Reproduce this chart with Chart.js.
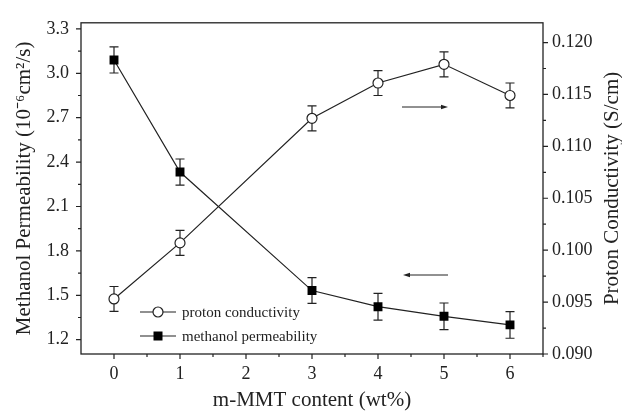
<!DOCTYPE html>
<html>
<head>
<meta charset="utf-8">
<script src="https://cdn.jsdelivr.net/npm/chart.js@4/dist/chart.umd.min.js"></script>
<style>
  html, body { margin: 0; padding: 0; background: #fff; }
  #wrap { width: 622px; height: 412px; position: relative; }
</style>
</head>
<body>
<div id="wrap"><canvas id="chart"></canvas></div>
<script>
// m-MMT content (wt%)
const contents = [0, 1, 3, 4, 5, 6];
// proton conductivity (S/cm), right axis
const conductivity    = [0.0953, 0.1007, 0.1127, 0.1161, 0.1179, 0.1149];
const conductivityErr = [0.0012, 0.0012, 0.0012, 0.0012, 0.0012, 0.0012];
// methanol permeability (10^-6 cm2/s), left axis
const permeability    = [3.09, 2.333, 1.532, 1.423, 1.358, 1.30];
const permeabilityErr = [0.088, 0.088, 0.087, 0.09, 0.09, 0.09];

const xTicks     = [0, 1, 2, 3, 4, 5, 6];
const leftTicks  = [1.2, 1.5, 1.8, 2.1, 2.4, 2.7, 3.0, 3.3];
const rightTicks = [0.090, 0.095, 0.100, 0.105, 0.110, 0.115, 0.120];

const INK = '#222';
const SERIF = '"Liberation Serif", "Times New Roman", serif';

// error bars, drawn under the markers
const errorBars = {
    id: 'errorBars',
    beforeDatasetsDraw(chart) {
        const ctx = chart.ctx;
        ctx.save();
        ctx.strokeStyle = INK;
        ctx.lineWidth = 1.2;
        chart.data.datasets.forEach(ds => {
            const ys = chart.scales[ds.yAxisID];
            ds.data.forEach((p, i) => {
                const x  = chart.scales.x.getPixelForValue(p.x);
                const y1 = ys.getPixelForValue(p.y + ds.err[i]);
                const y2 = ys.getPixelForValue(p.y - ds.err[i]);
                ctx.beginPath();
                ctx.moveTo(x, y1); ctx.lineTo(x, y2);
                ctx.moveTo(x - 4.5, y1); ctx.lineTo(x + 4.5, y1);
                ctx.moveTo(x - 4.5, y2); ctx.lineTo(x + 4.5, y2);
                ctx.stroke();
            });
        });
        ctx.restore();
    }
};

// frame, outward ticks (major + minor), right title, legend, arrows
const decorations = {
    id: 'decorations',
    afterDraw(chart) {
        const ctx = chart.ctx;
        const a = chart.chartArea;
        const sx = chart.scales.x, yl = chart.scales.y, yr = chart.scales.y1;
        ctx.save();
        ctx.strokeStyle = INK;
        ctx.lineWidth = 1.3;
        ctx.strokeRect(a.left, a.top, a.right - a.left, a.bottom - a.top);

        ctx.lineWidth = 1.2;
        ctx.beginPath();
        xTicks.forEach(v => {
            const x = sx.getPixelForValue(v);
            ctx.moveTo(x, a.bottom); ctx.lineTo(x, a.bottom + 5);
            const m = sx.getPixelForValue(v + 0.5);
            ctx.moveTo(m, a.bottom); ctx.lineTo(m, a.bottom + 3);
        });
        leftTicks.forEach((v, i) => {
            const y = yl.getPixelForValue(v);
            ctx.moveTo(a.left, y); ctx.lineTo(a.left - 5, y);
            if (i < leftTicks.length - 1) {
                const m = yl.getPixelForValue((v + leftTicks[i + 1]) / 2);
                ctx.moveTo(a.left, m); ctx.lineTo(a.left - 3, m);
            }
        });
        rightTicks.forEach((v, i) => {
            const y = yr.getPixelForValue(v);
            ctx.moveTo(a.right, y); ctx.lineTo(a.right + 5, y);
            if (i < rightTicks.length - 1) {
                const m = yr.getPixelForValue((v + rightTicks[i + 1]) / 2);
                ctx.moveTo(a.right, m); ctx.lineTo(a.right + 3, m);
            }
        });
        ctx.stroke();

        // right axis title reads bottom-to-top like the left one
        ctx.save();
        ctx.translate(612, (a.top + a.bottom) / 2);
        ctx.rotate(-Math.PI / 2);
        ctx.font = '21px ' + SERIF;
        ctx.fillStyle = INK;
        ctx.textAlign = 'center';
        ctx.textBaseline = 'middle';
        ctx.fillText('Proton Conductivity (S/cm)', 0, 0);
        ctx.restore();

        // legend inside the plot
        const rows = [
            { label: 'proton conductivity',    y: 312, style: 'circle' },
            { label: 'methanol permeability',  y: 336, style: 'rect' }
        ];
        ctx.font = '15px ' + SERIF;
        ctx.textBaseline = 'middle';
        ctx.fillStyle = INK;
        rows.forEach(r => {
            ctx.lineWidth = 1.2;
            ctx.beginPath();
            ctx.moveTo(140, r.y); ctx.lineTo(176, r.y);
            ctx.stroke();
            if (r.style === 'circle') {
                ctx.beginPath();
                ctx.arc(158, r.y, 5, 0, Math.PI * 2);
                ctx.fillStyle = '#fff'; ctx.fill(); ctx.stroke();
            } else {
                ctx.fillStyle = '#000';
                ctx.fillRect(153.5, r.y - 4.5, 9, 9);
            }
            ctx.fillStyle = INK;
            ctx.fillText(r.label, 182, r.y + 1);
        });

        // arrows pointing to each series' axis
        const arrow = (x1, x2, y) => {
            const dir = Math.sign(x2 - x1);
            ctx.lineWidth = 1;
            ctx.beginPath();
            ctx.moveTo(x1, y); ctx.lineTo(x2 - dir * 5, y);
            ctx.stroke();
            ctx.beginPath();
            ctx.moveTo(x2, y);
            ctx.lineTo(x2 - dir * 7, y - 2.2);
            ctx.lineTo(x2 - dir * 7, y + 2.2);
            ctx.closePath();
            ctx.fill();
        };
        arrow(402, 448, 107);
        arrow(448, 403, 275);
        ctx.restore();
    }
};

new Chart(document.getElementById('chart'), {
    type: 'line',
    data: {
        datasets: [
            {
                label: 'proton conductivity',
                data: contents.map((c, i) => ({ x: c, y: conductivity[i] })),
                err: conductivityErr,
                yAxisID: 'y1',
                borderColor: INK, borderWidth: 1.2,
                pointStyle: 'circle', pointRadius: 5, pointBorderWidth: 1.2,
                pointBackgroundColor: '#fff', pointBorderColor: INK,
                tension: 0
            },
            {
                label: 'methanol permeability',
                data: contents.map((c, i) => ({ x: c, y: permeability[i] })),
                err: permeabilityErr,
                yAxisID: 'y',
                borderColor: INK, borderWidth: 1.2,
                pointStyle: 'rect', pointRadius: 6.3, pointBorderWidth: 0,
                pointBackgroundColor: '#000', pointBorderColor: '#000',
                tension: 0
            }
        ]
    },
    options: {
        responsive: true,
        maintainAspectRatio: false,
        animation: false,
        events: [],
        layout: { padding: { top: 13, left: 0, right: 0, bottom: 0 } },
        plugins: { legend: { display: false }, tooltip: { enabled: false } },
        scales: {
            x: {
                type: 'linear', min: -0.5, max: 6.5,
                afterBuildTicks: s => { s.ticks = xTicks.map(v => ({ value: v })); },
                afterFit: s => { s.height = 58; },
                grid: { display: false, drawTicks: false },
                border: { display: false },
                ticks: { color: INK, padding: 9, font: { family: SERIF, size: 18 }, callback: v => String(v) },
                title: { display: true, text: 'm-MMT content (wt%)', color: INK,
                         font: { family: SERIF, size: 21, lineHeight: 1.1 }, padding: { top: 0, bottom: 0 } }
            },
            y: {
                type: 'linear', position: 'left', min: 1.1035, max: 3.341,
                afterBuildTicks: s => { s.ticks = leftTicks.map(v => ({ value: v })); },
                afterFit: s => { s.width = 81; },
                grid: { display: false, drawTicks: false },
                border: { display: false },
                ticks: { color: INK, padding: 12, font: { family: SERIF, size: 18 }, callback: v => v.toFixed(1) },
                title: { display: true, text: 'Methanol Permeability (10⁻⁶cm²/s)', color: INK,
                         font: { family: SERIF, size: 21, lineHeight: 1.1 }, padding: { top: 13, bottom: 0 } }
            },
            y1: {
                type: 'linear', position: 'right', min: 0.09, max: 0.1219,
                afterBuildTicks: s => { s.ticks = rightTicks.map(v => ({ value: v })); },
                afterFit: s => { s.width = 79; },
                grid: { display: false, drawTicks: false },
                border: { display: false },
                ticks: { color: INK, padding: 9, font: { family: SERIF, size: 18 }, callback: v => v.toFixed(3) },
                title: { display: false }
            }
        }
    },
    plugins: [errorBars, decorations]
});
</script>
</body>
</html>
